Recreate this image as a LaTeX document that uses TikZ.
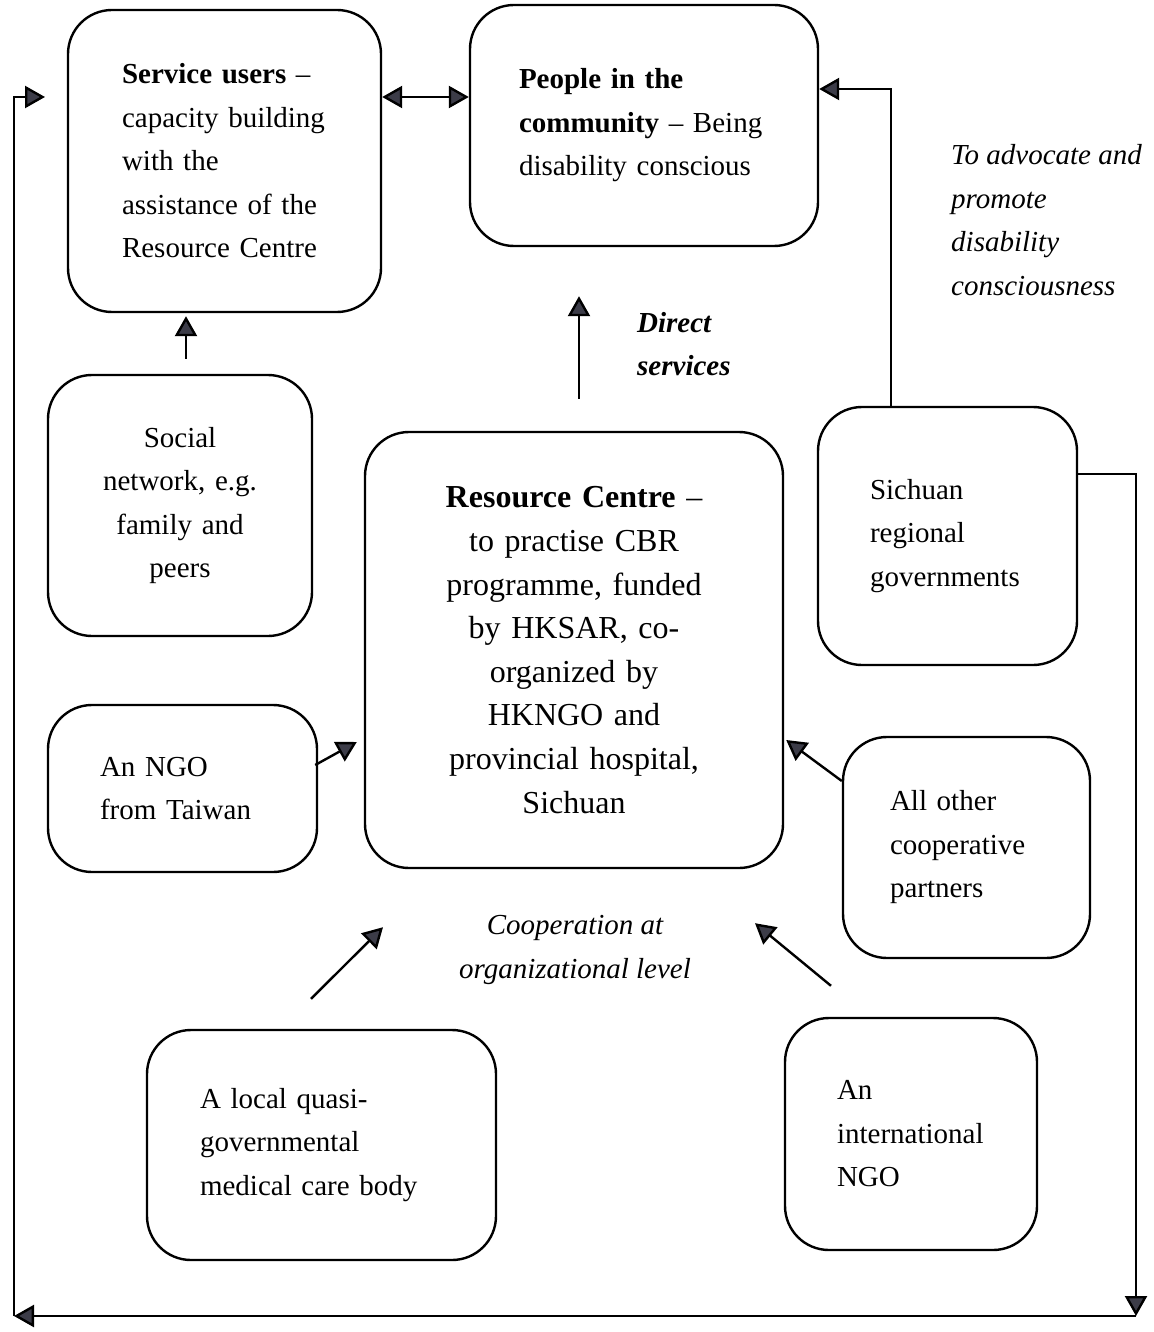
\documentclass[tikz,border=0pt]{standalone}
\usepackage{fontspec}
\setmainfont{Liberation Serif}
\usetikzlibrary{arrows.meta,calc}
\definecolor{tipgray}{HTML}{3C3C48}

\begin{document}
\begin{tikzpicture}[x=0.5pt,y=-0.5pt,>={Triangle[length=10pt,width=11pt,fill=tipgray]},line width=1.2pt,every node/.style={font=\fontsize{14.5}{21.75}\selectfont},box/.style={draw,rounded corners=22pt,inner ysep=0pt,align=left},lbl/.style={inner sep=0pt,font=\fontsize{14.5}{21.75}\selectfont\itshape}]
\useasboundingbox (0,0) rectangle (1154,1332);
\node[box,minimum height=151pt,text width=102.5pt,inner xsep=27pt] (SU) at (224.5,161) {\textbf{Service users} --\\capacity building\\with the\\assistance of the\\Resource Centre};
\node[box,minimum height=120.5pt,text width=125pt,inner xsep=24.5pt] (PC) at (644,125.5) {\textbf{People in the}\\\textbf{community} -- Being\\disability conscious};
\node[box,align=center,minimum height=130.5pt,text width=102pt,inner xsep=15pt] (SN) at (180,505.5) {Social\\network, e.g.\\family and\\peers};
\node[box,align=center,minimum height=218pt,text width=169pt,inner xsep=20pt,font=\fontsize{16}{21.8}\selectfont] (RC) at (574,650) {\textbf{Resource Centre} --\\to practise CBR\\programme, funded\\by HKSAR, co-\\organized by\\HKNGO and\\provincial hospital,\\Sichuan};
\node[box,minimum height=129pt,text width=77.5pt,inner xsep=26pt] (SG) at (947.5,536) {Sichuan\\regional\\governments};
\node[box,minimum height=83.5pt,text width=82.5pt,inner xsep=26pt] (TW) at (182.5,788.5) {An NGO\\from Taiwan};
\node[box,minimum height=110.5pt,text width=76.5pt,inner xsep=23.5pt] (OP) at (966.5,847.5) {All other\\cooperative\\partners};
\node[box,minimum height=115pt,text width=121.5pt,inner xsep=26.5pt] (LQ) at (321.5,1145) {A local quasi-\\governmental\\medical care body};
\node[box,minimum height=116pt,text width=74pt,inner xsep=26pt] (IN) at (911,1134) {An\\international\\NGO};
\node[lbl,anchor=west,align=left,font=\fontsize{14.5}{21.75}\selectfont\bfseries\itshape] (DSL) at (636,344) {Direct\\services};
\node[lbl,anchor=west,align=left] (ADV) at (950,220) {To advocate and\\promote\\disability\\consciousness};
\node[lbl,align=center] (COOP) at (575,950) {Cooperation at\\organizational level};
\coordinate (br) at (1136,1316);
\coordinate (bl) at (14,1316);
\coordinate (tl) at (45,97);
\draw[<->] ([yshift=32pt]SU.east) -- ([yshift=14.25pt]PC.west);
\draw[->] ([xshift=3pt,yshift=7.5pt]SN.north) -- ([xshift=-19.25pt,yshift=-1.5pt]SU.south);
\draw[->] ([xshift=2.5pt,yshift=16pt]RC.north) -- ([xshift=-32.5pt,yshift=-24.5pt]PC.south);
\draw[->] ([xshift=-28.25pt]SG.north) |- ([yshift=18.25pt]PC.east);
\draw[->] ([xshift=-1.5pt,yshift=11.75pt]TW.east) -- ([xshift=-3.5pt,yshift=-46pt]RC.west);
\draw[->] ([yshift=33.25pt]OP.west) -- ([xshift=1pt,yshift=-45pt]RC.east);
\draw[->] ([xshift=-5.25pt,yshift=15pt]LQ.north) -- ([xshift=-95.5pt,yshift=-29pt]RC.south);
\draw[->] ([xshift=-40pt,yshift=15.5pt]IN.north) -- ([xshift=90.5pt,yshift=-27pt]RC.south);
\draw[->] ([yshift=31pt]SG.east) -| (br);
\draw[->] (br) -- (bl);
\draw[->] (bl) |- (tl);
\end{tikzpicture}
\end{document}
